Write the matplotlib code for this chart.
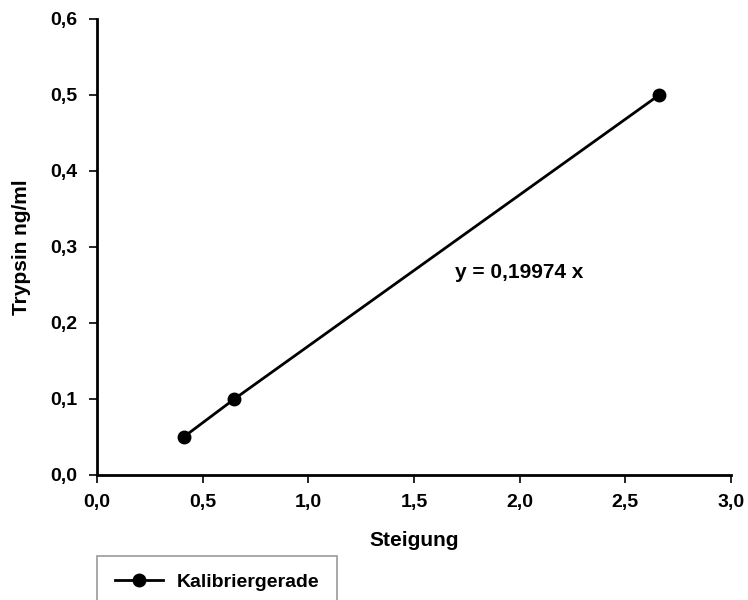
import matplotlib
matplotlib.use("Agg")
import matplotlib.pyplot as plt
from matplotlib.ticker import FuncFormatter

plt.rcParams['font.family'] = ['Liberation Sans', 'DejaVu Sans']
plt.rcParams['font.weight'] = 'bold'

steigung = [0.41, 0.65, 2.66]
trypsin = [0.05, 0.10, 0.50]
series_label = "Kalibriergerade"
equation = "y = 0,19974 x"
x_label = "Steigung"
y_label = "Trypsin ng/ml"

W, H = 748, 600
fig = plt.figure(figsize=(W/100, H/100), dpi=100)
ax = fig.add_axes([97/W, 1-475/H, (731-97)/W, (475-19)/H])

ax.plot(steigung, trypsin, color='black', lw=2.0, marker='o', markersize=9,
        label=series_label)
ax.set_xlim(0, 3.0)
ax.set_ylim(0, 0.6)
ax.set_xticks([0, 0.5, 1.0, 1.5, 2.0, 2.5, 3.0])
ax.set_yticks([0, 0.1, 0.2, 0.3, 0.4, 0.5, 0.6])
fmt = FuncFormatter(lambda v, p: f"{v:.1f}".replace('.', ','))
ax.xaxis.set_major_formatter(fmt)
ax.yaxis.set_major_formatter(fmt)
for s in ['top', 'right']:
    ax.spines[s].set_visible(False)
for s in ['left', 'bottom']:
    ax.spines[s].set_linewidth(2.0)
ax.tick_params(direction='out', length=6, width=1.2, labelsize=14, pad=8)
for lab in ax.get_xticklabels() + ax.get_yticklabels():
    lab.set_fontweight('bold')

ax.set_xlabel(x_label, fontsize=15, fontweight='bold', labelpad=14)
ax.set_ylabel(y_label, fontsize=15, fontweight='bold', labelpad=14)

ax.text(2.0, 0.266, equation, fontsize=15, fontweight='bold', ha='center', va='center')

leg = fig.legend(loc='upper left', bbox_to_anchor=(97/W, 1-556/H), borderaxespad=0,
                 frameon=True, fancybox=False, borderpad=0.9, handlelength=2.5,
                 handletextpad=0.7,
                 prop={'weight': 'bold', 'size': 14})
leg.get_frame().set_edgecolor('#808080')
leg.get_frame().set_linewidth(1.2)

fig.savefig("out.png", dpi=100)
